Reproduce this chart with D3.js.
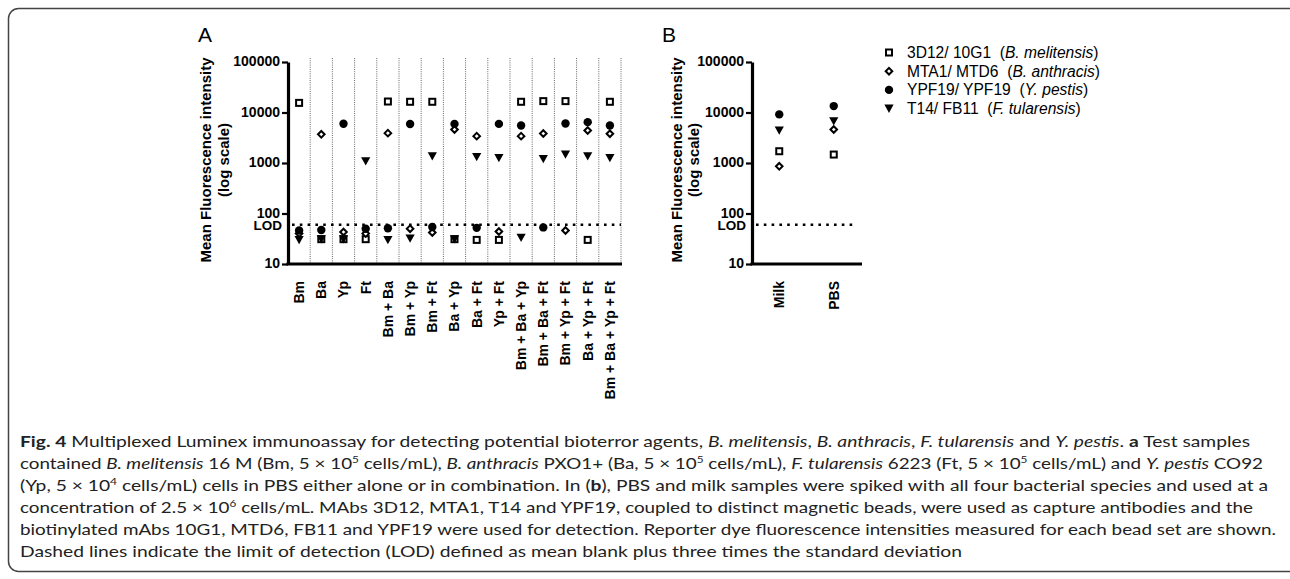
<!DOCTYPE html>
<html>
<head>
<meta charset="utf-8">
<script src="https://cdn.jsdelivr.net/npm/d3@7"></script>
<style>
body { margin:0; background:#fff; }
svg text { font-family: "Liberation Sans", Arial, sans-serif; }
.cap text { font-family: Lato, "Noto Sans", sans-serif; }
</style>
</head>
<body>
<svg id="chart" width="1290" height="579"></svg>
<script>
// data
var catsA = ["Bm","Ba","Yp","Ft","Bm + Ba","Bm + Yp","Bm + Ft","Ba + Yp","Ba + Ft","Yp + Ft",
  "Bm + Ba + Yp","Bm + Ba + Ft","Bm + Yp + Ft","Ba + Yp + Ft","Bm + Ba + Yp + Ft"];
var melA  = [15500,31,31,31,16500,16300,16300,31,30,30,16300,16800,16800,30,16300];   // 3D12/10G1
var anthA = [40,3700,43,40,3900,50,42,4600,3400,44,3400,3840,46,4400,3790];           // MTA1/MTD6
var pestA = [46,47,6000,50,51,5900,54,5950,52,5950,5540,53,6070,6440,5540];          // YPF19/YPF19
var tulA  = [30,31,31,1080,30,32,1360,31,1320,1260,33,1200,1470,1360,1260];           // T14/FB11

var catsB = ["Milk","PBS"];
var melB  = [1710,1470];
var anthB = [860,4610];
var pestB = [9170,13400];
var tulB  = [4400,6740];

var yTicks = [10,100,1000,10000,100000];
var lod = 60;
var legendMabs = ["3D12/ 10G1", "MTA1/ MTD6", "YPF19/ YPF19", "T14/ FB11"];
var legendSpecies = ["B. melitensis", "B. anthracis", "Y. pestis", "F. tularensis"];
var shapes = ["square","diamond","circle","triangle"];

var svg = d3.select('#chart');

// border box
svg.append('rect').attr('x',8.5).attr('y',8.5).attr('width',1295).attr('height',563)
  .attr('rx',10).attr('fill','none').attr('stroke','#444').attr('stroke-width',1.5);

var y = d3.scaleLog().domain([10,100000]).range([264,62]);

function marker(g, shape, cx, cy){
  if(shape=='square'){
    g.append('rect').attr('x',cx-3).attr('y',cy-3).attr('width',6).attr('height',6)
      .attr('fill','#fff').attr('stroke','#000').attr('stroke-width',2);
  } else if(shape=='diamond'){
    g.append('path').attr('d','M'+cx+','+(cy-3.3)+'L'+(cx+3.3)+','+cy+'L'+cx+','+(cy+3.3)+'L'+(cx-3.3)+','+cy+'Z')
      .attr('fill','#fff').attr('stroke','#000').attr('stroke-width',2);
  } else if(shape=='circle'){
    g.append('circle').attr('cx',cx).attr('cy',cy).attr('r',4.2).attr('fill','#000');
  } else {
    g.append('path').attr('d','M'+(cx-4.6)+','+(cy-4)+'L'+(cx+4.6)+','+(cy-4)+'L'+cx+','+(cy+4.3)+'Z')
      .attr('fill','#000');
  }
}

function panel(cats, series, x0, x1, letter, letterX, t1x, t2x, seps, lodEnd){
  var x = d3.scaleBand().domain(cats).range([x0,x1]);
  var g = svg.append('g');

  g.append('text').attr('x',letterX).attr('y',42).attr('font-size',21).text(letter);

  // dotted separators
  if(seps){
    g.selectAll('.sep').data(cats).enter().append('line')
      .attr('x1',function(d){return x(d)+x.bandwidth();})
      .attr('x2',function(d){return x(d)+x.bandwidth();})
      .attr('y1',y(100000)-4).attr('y2',y(10))
      .attr('stroke','#666').attr('stroke-width',1).attr('stroke-dasharray','1,1.2');
  }

  // LOD line
  g.append('line').attr('x1',x0+4).attr('x2',lodEnd).attr('y1',y(lod)).attr('y2',y(lod))
    .attr('stroke','#000').attr('stroke-width',2.6).attr('stroke-dasharray','2.6,5.2');

  // y axis
  var ya = g.append('g').attr('transform','translate('+x0+',0)')
    .call(d3.axisLeft(y).tickValues(yTicks).tickFormat(d3.format('d')).tickSize(6).tickSizeOuter(0).tickPadding(2));
  ya.select('.domain').attr('stroke-width',3.2);
  ya.selectAll('.tick line').attr('stroke-width',2.2);
  ya.selectAll('.tick text').attr('font-size',14).attr('font-weight','bold')
    .attr('font-family','Liberation Sans, Arial, sans-serif').attr('dy','0.28em');
  g.append('text').attr('x',x0-6).attr('y',y(lod)).attr('dy','0.42em').attr('text-anchor','end')
    .attr('font-size',13.5).attr('font-weight','bold').text('LOD');

  // x axis
  g.append('line').attr('x1',x0-1.5).attr('x2',x1+1).attr('y1',y(10)).attr('y2',y(10))
    .attr('stroke','#000').attr('stroke-width',3.2);
  g.selectAll('.xl').data(cats).enter().append('text')
    .attr('transform',function(d){return 'translate('+(x(d)+x.bandwidth()/2)+',281) rotate(-90)';})
    .attr('dy','0.35em').attr('text-anchor','end').attr('font-size',14).attr('font-weight','bold')
    .text(function(d){return d;});

  // y titles
  var cy = 160;
  g.append('text').attr('transform','translate('+t1x+','+cy+') rotate(-90)').attr('text-anchor','middle')
    .attr('dy','0.35em').attr('font-size',15).attr('font-weight','bold').text('Mean Fluorescence intensity');
  g.append('text').attr('transform','translate('+t2x+','+cy+') rotate(-90)').attr('text-anchor','middle')
    .attr('dy','0.35em').attr('font-size',15).attr('font-weight','bold').text('(log scale)');

  // points
  var pg = g.append('g');
  series.forEach(function(vals, si){
    vals.forEach(function(v, i){
      marker(pg, shapes[si], x(cats[i])+x.bandwidth()/2, y(v));
    });
  });
}

panel(catsA, [melA,anthA,pestA,tulA], 288, 621, 'A', 198, 206, 224, true, 621);
panel(catsB, [melB,anthB,pestB,tulB], 752, 861, 'B', 662, 677, 694, false, 853);

// legend
var lg = svg.append('g');
legendMabs.forEach(function(m, i){
  var ly = 52.5 + i*18.7;
  marker(lg, shapes[i], 889, ly);
  var t = lg.append('text').attr('x',907).attr('y',ly).attr('dy','0.35em').attr('font-size',15.6)
    .attr('xml:space','preserve').style('white-space','pre');
  t.append('tspan').text(m + '  (');
  t.append('tspan').attr('font-style','italic').text(legendSpecies[i]);
  t.append('tspan').text(')');
});

// caption
var capLines = [
  [["Fig. 4","b"],[" Multiplexed Luminex immunoassay for detecting potential bioterror agents, ",""],["B. melitensis","i"],[", ",""],["B. anthracis","i"],[", ",""],["F. tularensis","i"],[" and ",""],["Y. pestis","i"],[". ",""],["a","b"],[" Test samples",""]],
  [["contained ",""],["B. melitensis","i"],[" 16 M (Bm, 5 × 10",""],["5","s"],[" cells/mL), ",""],["B. anthracis","i"],[" PXO1+ (Ba, 5 × 10",""],["5","s"],[" cells/mL), ",""],["F. tularensis","i"],[" 6223 (Ft, 5 × 10",""],["5","s"],[" cells/mL) and ",""],["Y. pestis","i"],[" CO92",""]],
  [["(Yp, 5 × 10",""],["4","s"],[" cells/mL) cells in PBS either alone or in combination. In (",""],["b","b"],["), PBS and milk samples were spiked with all four bacterial species and used at a",""]],
  [["concentration of 2.5 × 10",""],["6","s"],[" cells/mL. MAbs 3D12, MTA1, T14 and YPF19, coupled to distinct magnetic beads, were used as capture antibodies and the",""]],
  [["biotinylated mAbs 10G1, MTD6, FB11 and YPF19 were used for detection. Reporter dye fluorescence intensities measured for each bead set are shown.",""]],
  [["Dashed lines indicate the limit of detection (LOD) defined as mean blank plus three times the standard deviation",""]]
];
var capEnds = [1250,1263,1268,1253,1276,962];
var cg = svg.append('g').attr('class','cap');
capLines.forEach(function(line, li){
  var t = cg.append('text').attr('x',20).attr('y',447 + li*22).attr('font-size',16).attr('fill','#222')
    .attr('textLength',capEnds[li]-20).attr('lengthAdjust','spacingAndGlyphs');
  var up = false;
  line.forEach(function(seg){
    var s = t.append('tspan').text(seg[0]);
    if(seg[1]=='b') s.attr('font-weight','bold');
    if(seg[1]=='i') s.attr('font-style','italic');
    if(seg[1]=='s'){ s.attr('font-size',10).attr('dy',-6); up = true; }
    else if(up){ s.attr('dy',6); up = false; }
  });
});
</script>
</body>
</html>
